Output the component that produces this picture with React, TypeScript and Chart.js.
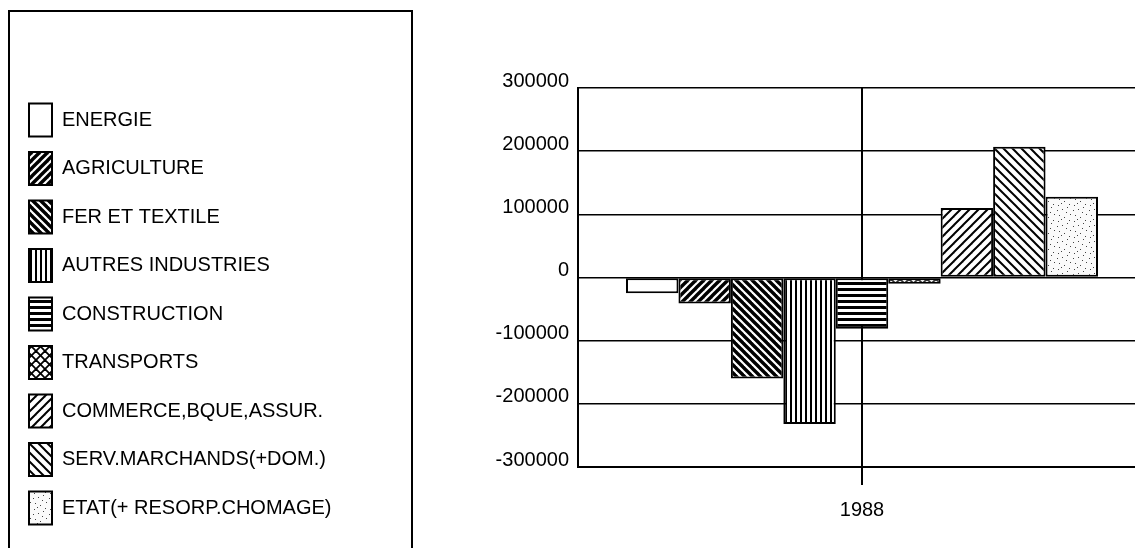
import { useEffect, useRef } from "react";
import { Chart, registerables } from "chart.js";

Chart.register(...registerables);

// ---- data ----
const categories = ["1988"];
const seriesLabels = [
  "ENERGIE",
  "AGRICULTURE",
  "FER ET TEXTILE",
  "AUTRES INDUSTRIES",
  "CONSTRUCTION",
  "TRANSPORTS",
  "COMMERCE,BQUE,ASSUR.",
  "SERV.MARCHANDS(+DOM.)",
  "ETAT(+ RESORP.CHOMAGE)",
];
const energie = [-25000];
const agriculture = [-41000];
const ferTextile = [-160000];
const autresIndustries = [-232000];
const construction = [-81000];
const transports = [-10000];
const commerce = [110000];
const servMarchands = [207000];
const etat = [128000];
const seriesValues = [
  energie,
  agriculture,
  ferTextile,
  autresIndustries,
  construction,
  transports,
  commerce,
  servMarchands,
  etat,
];
const yMin = -300000;
const yMax = 300000;
const yStep = 100000;

// ---- styling ----
const FONT = "'Liberation Sans', Arial, sans-serif";
const PATTERNS = [
  "blank",
  "slashThick",
  "backThick",
  "vertical",
  "horizontal",
  "cross",
  "slashThin",
  "backThin",
  "stipple",
];
const STIPPLE_DOTS = [
  [1, 2], [6, 1], [10, 4], [3, 7], [8, 9], [13, 12], [2, 13], [11, 15], [5, 11], [14, 6],
];

function makePattern(kind: string): CanvasPattern | string {
  if (kind === "blank") return "#ffffff";
  const c = document.createElement("canvas");
  const ctx = c.getContext("2d")!;
  const diag = (s: number, w: number, dir: number) => {
    ctx.strokeStyle = "#000";
    ctx.lineWidth = w;
    ctx.lineCap = "square";
    for (const o of [-s, 0, s]) {
      ctx.beginPath();
      if (dir > 0) {
        ctx.moveTo(o, s);
        ctx.lineTo(o + s, 0);
      } else {
        ctx.moveTo(o, 0);
        ctx.lineTo(o + s, s);
      }
      ctx.stroke();
    }
  };
  let s = 8;
  if (kind === "slashThick" || kind === "backThick") {
    s = 8;
    c.width = s; c.height = s;
    ctx.fillStyle = "#fff"; ctx.fillRect(0, 0, s, s);
    diag(s, 3.4, kind === "slashThick" ? 1 : -1);
  } else if (kind === "slashThin" || kind === "backThin") {
    s = 9;
    c.width = s; c.height = s;
    ctx.fillStyle = "#fff"; ctx.fillRect(0, 0, s, s);
    diag(s, 2, kind === "slashThin" ? 1 : -1);
  } else if (kind === "cross") {
    s = 9;
    c.width = s; c.height = s;
    ctx.fillStyle = "#fff"; ctx.fillRect(0, 0, s, s);
    diag(s, 1.8, 1);
    diag(s, 1.8, -1);
  } else if (kind === "vertical") {
    c.width = 5; c.height = 5;
    ctx.fillStyle = "#fff"; ctx.fillRect(0, 0, 5, 5);
    ctx.fillStyle = "#000"; ctx.fillRect(0, 0, 2, 5);
  } else if (kind === "horizontal") {
    c.width = 6; c.height = 6;
    ctx.fillStyle = "#fff"; ctx.fillRect(0, 0, 6, 6);
    ctx.fillStyle = "#000"; ctx.fillRect(0, 0, 6, 3);
  } else if (kind === "stipple") {
    c.width = 16; c.height = 16;
    ctx.fillStyle = "#fafafa"; ctx.fillRect(0, 0, 16, 16);
    ctx.fillStyle = "#444";
    for (const [x, y] of STIPPLE_DOTS) ctx.fillRect(x, y, 1, 1);
  }
  return ctx.createPattern(c, "repeat")!;
}

const PLOT_LEFT = 578;
const LEGEND_PAD_LEFT = 13.5;
const FRAME = { left: 9, top: 11, right: 412 };

const legendFrame = {
  id: "legendFrame",
  afterInit(chart: any) {
    const lg = chart.legend;
    if (lg && !lg.__wide) {
      const orig = lg.fit.bind(lg);
      lg.fit = function () {
        this.maxWidth = 1000;
        orig();
      };
      lg.__wide = true;
    }
  },
  afterDraw(chart: any) {
    const ctx = chart.ctx;
    ctx.save();
    ctx.strokeStyle = "#000";
    ctx.lineWidth = 2;
    ctx.strokeRect(FRAME.left, FRAME.top, FRAME.right - FRAME.left, 1000);
    ctx.restore();
  },
};

export default function App() {
  const ref = useRef<HTMLCanvasElement | null>(null);
  useEffect(() => {
    if (!ref.current) return;
    const datasets = seriesLabels.map((label, i) => ({
      label,
      data: seriesValues[i],
      backgroundColor: makePattern(PATTERNS[i]),
      borderColor: "#000",
      borderWidth: 2,
      borderSkipped: false as const,
    }));
    const font = { family: FONT, size: 20 };
    const chart = new Chart(ref.current, {
      type: "bar",
      data: { labels: categories, datasets },
      plugins: [legendFrame],
      options: {
        responsive: false,
        animation: false,
        layout: { padding: { left: LEGEND_PAD_LEFT, top: 88, right: 14, bottom: 0 } },
        datasets: { bar: { categoryPercentage: 0.831, barPercentage: 1 } },
        plugins: {
          legend: {
            position: "left",
            align: "start",
            labels: {
              boxWidth: 23,
              boxHeight: 33,
              padding: 15.5,
              color: "#000",
              font,
            },
          },
          tooltip: { enabled: false },
        },
        scales: {
          x: {
            type: "category",
            offset: true,
            grid: { offset: false, color: "#000", lineWidth: 2, tickLength: 18, drawTicks: true },
            border: { display: true, color: "#000", width: 2 },
            ticks: { color: "#000", font, padding: 13 },
            afterFit: (s: any) => {
              s.height = 81;
            },
          },
          y: {
            min: yMin,
            max: yMax,
            ticks: {
              stepSize: yStep,
              color: "#000",
              font,
              padding: 9,
              labelOffset: -7,
              callback: (v: any) => String(v),
            },
            grid: { color: "#000", lineWidth: 1.5, drawTicks: false },
            border: { display: true, color: "#000", width: 2 },
            afterFit: (s: any) => {
              const lg = s.chart.legend;
              s.width = PLOT_LEFT - LEGEND_PAD_LEFT - (lg ? lg.width : 0);
            },
          },
        },
      } as any,
    });
    return () => chart.destroy();
  }, []);
  return (
    <div
      style={{
        position: "fixed",
        left: 0,
        top: 0,
        width: 1135,
        height: 548,
        overflow: "hidden",
        background: "#fff",
      }}
    >
      <canvas ref={ref} width={1160} height={548} style={{ display: "block", width: 1160, height: 548 }} />
    </div>
  );
}
